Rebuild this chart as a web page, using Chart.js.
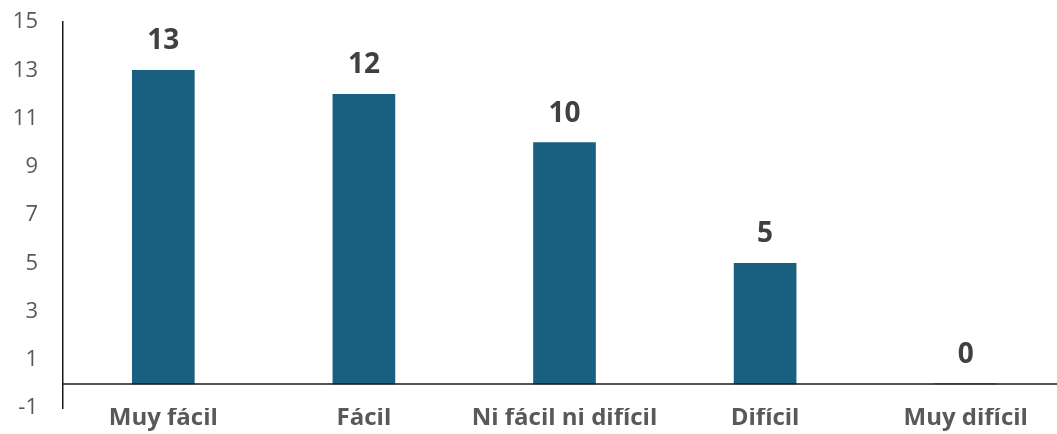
<!DOCTYPE html>
<html>
<head>
<meta charset="utf-8">
<script src="https://cdn.jsdelivr.net/npm/chart.js@4"></script>
<style>
  html, body { margin: 0; padding: 0; background: #fff; overflow: hidden; }
  #wrap { position: relative; width: 1066px; height: 434px; }
</style>
</head>
<body>
<div id="wrap"><canvas id="c"></canvas></div>
<script>
const categories = ["Muy fácil", "Fácil", "Ni fácil ni difícil", "Difícil", "Muy difícil"];
const values = [13, 12, 10, 5, 0];
const yTicks = [-1, 1, 3, 5, 7, 9, 11, 13, 15];

const FONT = "'Open Sans', 'Liberation Sans', sans-serif";

const zeroLinePlugin = {
  id: 'zeroLine',
  afterDatasetsDraw(chart) {
    const { ctx, chartArea, scales } = chart;
    const y = scales.y.getPixelForValue(0);
    ctx.save();
    ctx.strokeStyle = '#1a1a1a';
    ctx.lineWidth = 1.5;
    ctx.beginPath();
    ctx.moveTo(chartArea.left, y);
    ctx.lineTo(chartArea.right, y);
    ctx.stroke();
    ctx.restore();
  }
};

const dataLabelPlugin = {
  id: 'dataLabels',
  afterDatasetsDraw(chart) {
    const { ctx } = chart;
    const meta = chart.getDatasetMeta(0);
    ctx.save();
    ctx.font = "bold 28px " + FONT;
    ctx.fillStyle = '#404040';
    ctx.textAlign = 'center';
    ctx.textBaseline = 'alphabetic';
    meta.data.forEach((bar, i) => {
      ctx.fillText(String(values[i]), bar.x, bar.y - 21);
    });
    ctx.restore();
  }
};

new Chart(document.getElementById('c'), {
  type: 'bar',
  data: {
    labels: categories,
    datasets: [{
      data: values,
      backgroundColor: '#185F80',
      barThickness: 62
    }]
  },
  options: {
    responsive: true,
    maintainAspectRatio: false,
    animation: false,
    layout: { padding: { left: 0, top: 22, right: 0, bottom: 0 } },
    plugins: { legend: { display: false }, tooltip: { enabled: false } },
    scales: {
      x: {
        afterFit(scale) { scale.height = 26; },
        grid: { display: false, drawTicks: false },
        border: { display: false },
        ticks: {
          padding: -4,
          color: '#595959',
          font: { family: FONT, size: 24, weight: 'bold' },
          maxRotation: 0,
          autoSkip: false
        }
      },
      y: {
        min: -1,
        max: 15,
        afterBuildTicks(scale) { scale.ticks = yTicks.map(v => ({ value: v })); },
        afterFit(scale) { scale.width = 63; },
        grid: { display: true, drawOnChartArea: false, drawTicks: true, tickLength: 25, color: 'rgba(0,0,0,0)' },
        border: { display: true, color: '#1a1a1a', width: 1.5 },
        ticks: {
          padding: 0,
          color: '#595959',
          font: { family: FONT, size: 22 }
        }
      }
    }
  },
  plugins: [zeroLinePlugin, dataLabelPlugin]
});
</script>
</body>
</html>
